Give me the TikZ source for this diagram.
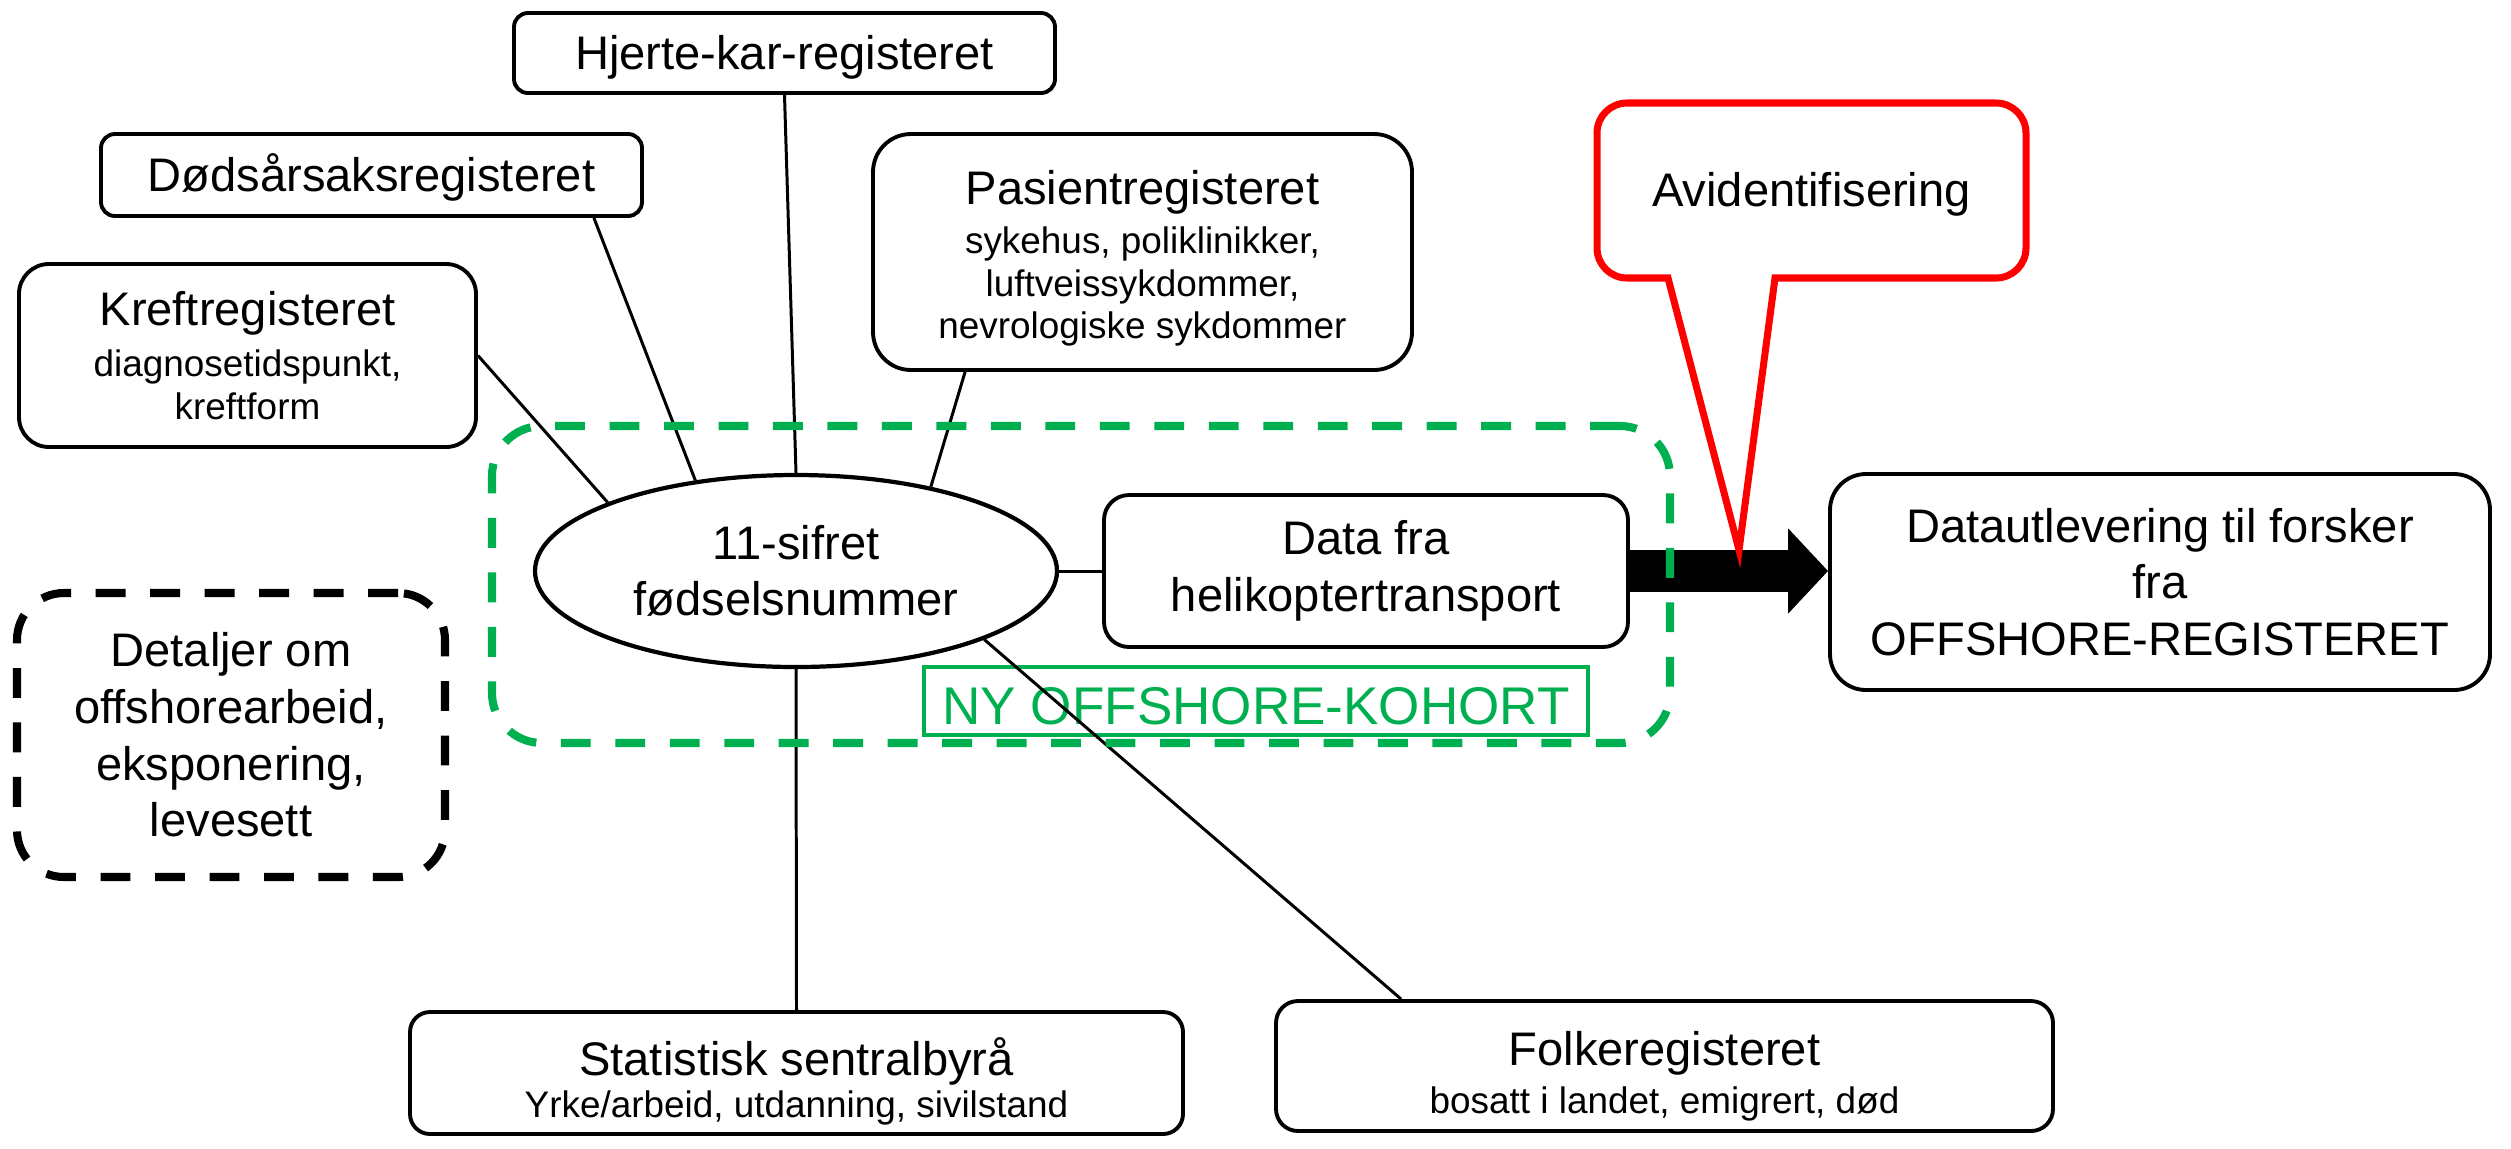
\documentclass[tikz,border=0pt]{standalone}
\usepackage{fontspec}
\setmainfont{Liberation Sans}
\usetikzlibrary{arrows.meta,shapes.geometric}
\setlength{\parindent}{0pt}

\newcommand{\mainfs}{\fontsize{13.4}{16.1}\selectfont}
\newcommand{\subfs}{\fontsize{10.5}{12.1}\selectfont}
\definecolor{kohortgreen}{RGB}{0,176,80}

\begin{document}
\begin{tikzpicture}
	\tikzstyle{box} = [rectangle, draw, line width=1.1pt, rounded corners=0.2cm, inner sep=0pt, align=flush center, font=\mainfs]
	\tikzstyle{oneline} = [text height=12.1pt, text depth=2.8pt]
	\tikzstyle{dashbox} = [rectangle, draw, line width=2.3pt, dash pattern=on 8.5pt off 7pt, inner sep=0pt, align=center, font=\mainfs]
	\tikzstyle{link} = [draw, line width=0.85pt]
	\tikzstyle{bigarrow} = [draw, line width=0.42cm, -{Triangle[length=0.4cm, width=0.83cm]}]
	\tikzstyle{bubble} = [draw=red, line width=2pt, line join=miter]

	\useasboundingbox (0,0) rectangle (25.11,-11.48);

	\node [box, oneline, minimum width=5.41cm, minimum height=0.8cm, rounded corners=0.14cm] (hjerte) at (7.845,-0.53) {Hjerte-kar-registeret};
	\node [box, oneline, minimum width=5.41cm, minimum height=0.82cm, rounded corners=0.14cm] (dodsarsak) at (3.715,-1.75) {Dødsårsaksregisteret};
	\node [box, text width=4.57cm, minimum height=1.83cm, rounded corners=0.3cm] (kreft) at (2.475,-3.555) {Kreftregisteret\par\vspace{2.5pt}\subfs diagnosetidspunkt,\par kreftform\par};
	\node [box, text width=5.39cm, minimum height=2.36cm, rounded corners=0.38cm] (pasient) at (11.425,-2.52) {\rule{0pt}{13.2pt}Pasientregisteret\par\vspace{2pt}\subfs sykehus, poliklinikker,\par luftveissykdommer,\par nevrologiske sykdommer\par};

	\node [draw=none, oneline, minimum width=4.29cm, minimum height=1.75cm, inner sep=0pt, outer sep=0pt, font=\mainfs] (avid) at (18.115,-1.905) {Avidentifisering};
	\coordinate (tip) at (17.39,-5.50);

	\node [ellipse, draw, line width=1.2pt, minimum width=5.22cm, minimum height=1.92cm, inner sep=0pt, align=center, font=\mainfs] (sifret) at (7.96,-5.71) {11-sifret\\fødselsnummer};
	\node [box, minimum width=5.24cm, minimum height=1.52cm, rounded corners=0.25cm] (data) at (13.66,-5.71) {Data fra\\helikoptertransport};
	\node [box, minimum width=6.60cm, minimum height=2.16cm, rounded corners=0.36cm] (datalev) at (21.60,-5.82) {Datautlevering til forsker\\fra\\OFFSHORE-REGISTERET};
	\node [rectangle, draw=kohortgreen, line width=1.1pt, text=kohortgreen, minimum width=6.64cm, minimum height=0.68cm, inner sep=0pt, text height=13.6pt, text depth=0pt, font=\fontsize{15.1}{18}\selectfont] (nykohort) at (12.56,-7.01) {NY OFFSHORE-KOHORT};

	\node [dashbox, minimum width=4.28cm, minimum height=2.84cm, rounded corners=0.47cm] (detaljer) at (2.31,-7.35) {Detaljer om\\offshorearbeid,\\eksponering,\\levesett};
	\node [box, text width=7.73cm, minimum height=1.22cm, rounded corners=0.2cm] (ssb) at (7.965,-10.73) {\rule{0pt}{15.5pt}Statistisk sentralbyrå\par\subfs Yrke/arbeid, utdanning, sivilstand\par};
	\node [box, text width=7.77cm, minimum height=1.30cm, rounded corners=0.22cm] (folke) at (16.645,-10.66) {\rule{0pt}{15.5pt}Folkeregisteret\par\vspace{1.5pt}\subfs bosatt i landet, emigrert, død\par};

	\path[link] (hjerte.south) edge (sifret.north);
	\path[link] ([xshift=-0.5cm]dodsarsak.south east) edge (sifret.138);
	\path[link] (kreft.east) edge (sifret.160);
	\path[link] ([xshift=0.94cm]pasient.south west) edge (sifret.32);
	\path[link] (sifret.east) edge (data.west);
	\path[link] (sifret.south) edge (ssb.north);
	\path[link] (sifret.-20) edge ([xshift=1.27cm]folke.north west);

	\path[bigarrow] (data.east) -- (datalev.west |- data.east);

	\draw[bubble] ([xshift=7.1mm]avid.south west) -- (tip) -- ([xshift=17.8mm]avid.south west)
		-- ([xshift=-3mm]avid.south east) arc[start angle=-90, end angle=0, radius=3mm]
		-- ([yshift=-3mm]avid.north east) arc[start angle=0, end angle=90, radius=3mm]
		-- ([xshift=3mm]avid.north west) arc[start angle=90, end angle=180, radius=3mm]
		-- ([yshift=3mm]avid.south west) arc[start angle=180, end angle=270, radius=3mm] -- cycle;

	\node [dashbox, draw=kohortgreen, minimum width=11.78cm, minimum height=3.17cm, rounded corners=0.5cm] (kohort) at (10.81,-5.845) {};
\end{tikzpicture}
\end{document}
